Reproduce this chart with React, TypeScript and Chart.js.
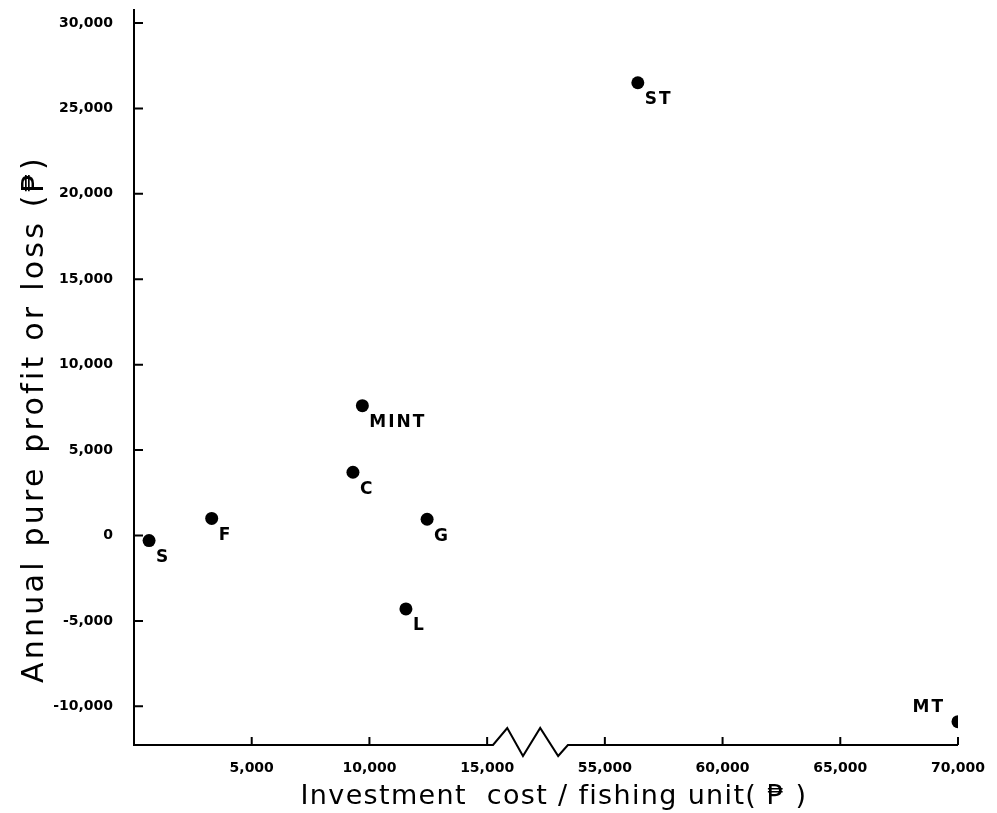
import React, { useEffect, useRef } from "react";
import { Chart, registerables } from "chart.js";

Chart.register(...registerables);

// ---- data ----
const unitLabels = ["S", "F", "MINT", "C", "G", "L", "ST", "MT"];
const investmentCost = [640, 3300, 9700, 9300, 12450, 11550, 56400, 70000];
const annualProfit = [-300, 1000, 7600, 3700, 950, -4300, 26500, -10900];
const labelSide = ["se", "se", "se", "se", "se", "se", "se", "nw"];

const yTickValues = [-10000, -5000, 0, 5000, 10000, 15000, 20000, 25000, 30000];
const xTickValues = [5000, 10000, 15000, 55000, 60000, 65000, 70000];

const xTitle = "Investment  cost / fishing unit( \u20B1 )";
const yTitle = "Annual pure profit or loss (\u20B1)";

// broken x axis: values above BREAK_VALUE are shifted left by BREAK_SHIFT
const BREAK_VALUE = 35000;
const BREAK_SHIFT = 35000;
const BREAK_START = 15250; // axis units where zigzag begins
const BREAK_END = 18430; // axis units where zigzag ends
const X_MAX = 35000;
const Y_MIN = -12265;
const Y_MAX = 30760;

const toAxis = (v: number) => (v > BREAK_VALUE ? v - BREAK_SHIFT : v);
const fromAxis = (u: number) => (u > BREAK_START ? u + BREAK_SHIFT : u);
const fmt = (v: number) => v.toLocaleString("en-US");

const TICK_FONT = { family: "'DejaVu Sans'", size: 14, weight: "bold" as const };

function fitText(ctx: any, text: string, size: number, target: number) {
  ctx.font = `${size}px 'DejaVu Sans'`;
  ctx.letterSpacing = "0px";
  const w = ctx.measureText(text).width;
  const sp = (target - w) / text.length;
  ctx.letterSpacing = `${sp.toFixed(2)}px`;
}

const decorPlugin = {
  id: "decor",
  afterDraw(chart: any) {
    const { ctx, chartArea: a, scales } = chart;
    const x = scales.x;
    const y = scales.y;
    ctx.save();
    ctx.strokeStyle = "#000";
    ctx.fillStyle = "#000";
    ctx.lineWidth = 2;
    ctx.lineJoin = "miter";

    // x axis with zigzag break
    const yb = a.bottom;
    const b0 = x.getPixelForValue(BREAK_START);
    const b1 = x.getPixelForValue(BREAK_END);
    const w = b1 - b0;
    ctx.beginPath();
    ctx.moveTo(a.left - 1, yb);
    ctx.lineTo(b0, yb);
    ctx.lineTo(b0 + w * 0.19, yb - 17);
    ctx.lineTo(b0 + w * 0.4, yb + 11);
    ctx.lineTo(b0 + w * 0.63, yb - 17);
    ctx.lineTo(b0 + w * 0.87, yb + 11);
    ctx.lineTo(b1, yb);
    ctx.lineTo(a.right, yb);
    ctx.stroke();

    // inward tick marks
    ctx.beginPath();
    for (const t of y.ticks) {
      const p = y.getPixelForValue(t.value);
      ctx.moveTo(a.left, p);
      ctx.lineTo(a.left + 9, p);
    }
    for (const t of x.ticks) {
      if (t.value <= 0) continue;
      const p = x.getPixelForValue(t.value);
      ctx.moveTo(p, yb);
      ctx.lineTo(p, yb - 8);
    }
    ctx.stroke();

    // point labels
    const meta = chart.getDatasetMeta(0);
    ctx.font = "bold 17px 'DejaVu Sans'";
    ctx.letterSpacing = "2px";
    ctx.textBaseline = "middle";
    meta.data.forEach((pt: any, i: number) => {
      if (labelSide[i] === "nw") {
        ctx.textAlign = "right";
        ctx.fillText(unitLabels[i], pt.x - 13, pt.y - 14);
      } else {
        ctx.textAlign = "left";
        ctx.fillText(unitLabels[i], pt.x + 7, pt.y + 17);
      }
    });

    // axis titles
    ctx.textAlign = "center";
    ctx.textBaseline = "middle";
    fitText(ctx, xTitle, 27, 507);
    ctx.fillText(xTitle, 554, 797);

    fitText(ctx, yTitle, 30, 528);
    ctx.translate(35, 419);
    ctx.rotate(-Math.PI / 2);
    ctx.fillText(yTitle, 0, 0);
    ctx.letterSpacing = "0px";
    ctx.restore();
  },
};

export default function App() {
  const ref = useRef<HTMLCanvasElement | null>(null);

  useEffect(() => {
    if (!ref.current) return;
    const points = investmentCost.map((v, i) => ({ x: toAxis(v), y: annualProfit[i] }));
    const chart = new Chart(ref.current, {
      type: "scatter",
      data: {
        datasets: [
          {
            data: points,
            backgroundColor: "#000",
            borderColor: "#000",
            pointRadius: 6.5,
            pointBorderWidth: 0,
          },
        ],
      },
      options: {
        animation: false,
        responsive: false,
        layout: { padding: 0 },
        plugins: { legend: { display: false }, tooltip: { enabled: false } },
        scales: {
          x: {
            type: "linear",
            min: 0,
            max: X_MAX,
            grid: { display: false, drawTicks: false },
            border: { display: false },
            afterBuildTicks: (s: any) => {
              s.ticks = xTickValues.map((v) => ({ value: toAxis(v) }));
            },
            ticks: {
              autoSkip: false,
              maxRotation: 0,
              padding: 15,
              color: "#000",
              font: TICK_FONT,
              callback: (v: any) => fmt(fromAxis(Number(v))),
            },
            afterFit: (s: any) => {
              s.height = 68;
              s.paddingRight = 39;
              s.paddingLeft = 0;
            },
          },
          y: {
            type: "linear",
            min: Y_MIN,
            max: Y_MAX,
            grid: { display: false, drawTicks: false },
            border: { display: true, color: "#000", width: 2 },
            afterBuildTicks: (s: any) => {
              s.ticks = yTickValues.map((v) => ({ value: v }));
            },
            ticks: {
              autoSkip: false,
              padding: 21,
              color: "#000",
              font: TICK_FONT,
              callback: (v: any) => fmt(Number(v)),
            },
            afterFit: (s: any) => {
              s.width = 134;
              s.paddingTop = 10;
              s.paddingBottom = 0;
            },
          },
        },
      },
      plugins: [decorPlugin],
    });
    return () => chart.destroy();
  }, []);

  return (
    <div style={{ position: "fixed", left: 0, top: 0, width: 997, height: 813, background: "#fff" }}>
      <canvas ref={ref} width={997} height={813} style={{ display: "block" }} />
    </div>
  );
}
